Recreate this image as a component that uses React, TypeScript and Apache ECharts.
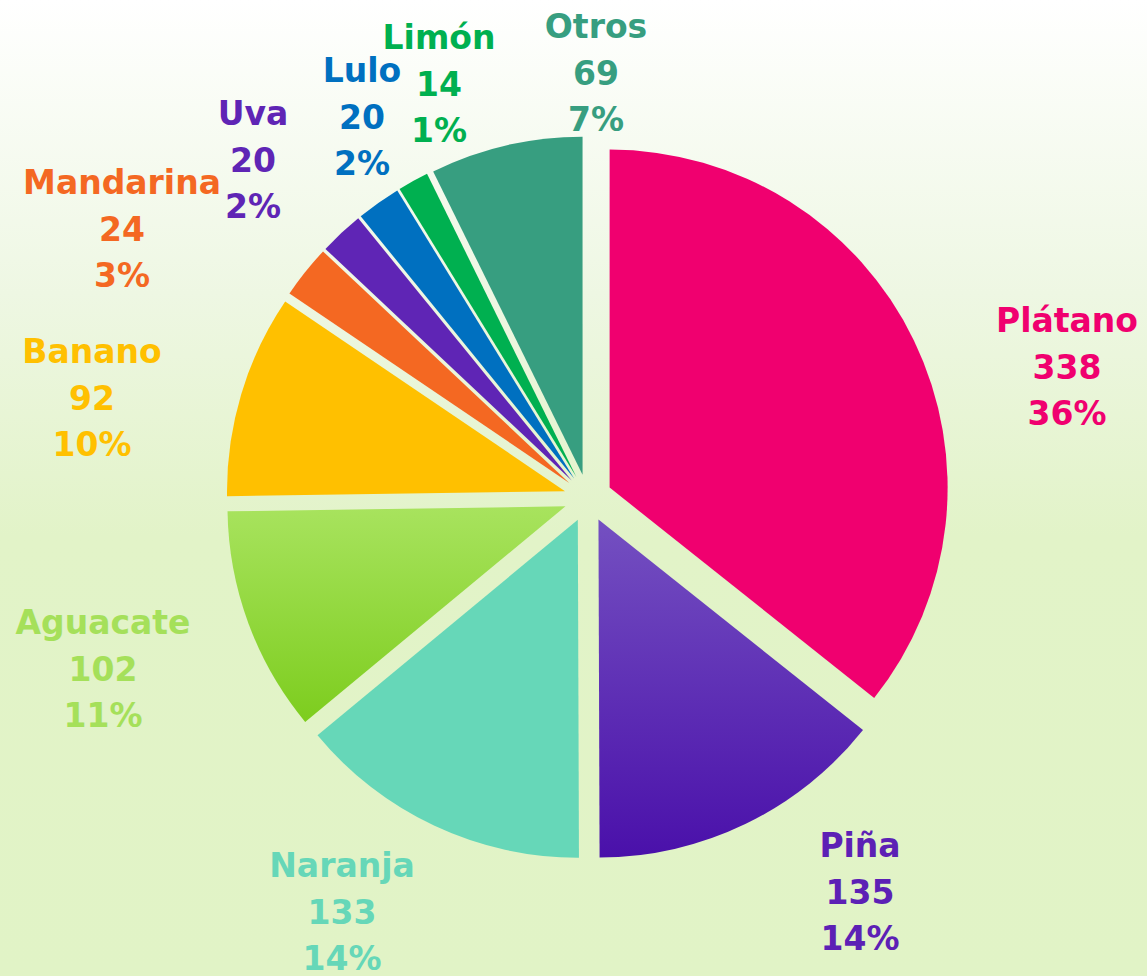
import React, { useEffect, useRef } from "react";
import * as echarts from "echarts";

const categories = ["Plátano", "Piña", "Naranja", "Aguacate", "Banano", "Mandarina", "Uva", "Lulo", "Limón", "Otros"];
const values = [338, 135, 133, 102, 92, 24, 20, 20, 14, 69];

const sliceColors: any[] = [
  "#f0006f",
  { type: "linear", x: 0, y: 0, x2: 0, y2: 1, colorStops: [{ offset: 0, color: "#7450c1" }, { offset: 1, color: "#4a10aa" }] },
  "#66d7b8",
  { type: "linear", x: 0, y: 0, x2: 0, y2: 1, colorStops: [{ offset: 0, color: "#a8e35e" }, { offset: 1, color: "#7dcd1e" }] },
  "#ffc000",
  "#f46822",
  "#5f25b5",
  "#0070c0",
  "#00b050",
  "#379e80",
];
const labelColors = ["#f0006f", "#5c20b5", "#66d7b8", "#a5e05a", "#ffc000", "#f46822", "#5f25b5", "#0070c0", "#00b050", "#379e80"];
// label centres (layout only)
const labelPos: [number, number][] = [
  [1067, 367], [860, 892], [342, 912], [103, 669], [92, 398],
  [122, 229], [253, 160], [362, 117], [439, 84], [596, 73],
];

export default function App() {
  const ref = useRef<HTMLDivElement>(null);
  useEffect(() => {
    if (!ref.current) return;
    const chart = echarts.init(ref.current, undefined, { renderer: "svg" });
    const common = {
      type: "pie",
      center: [588, 498],
      radius: 338,
      startAngle: 90,
      clockwise: true,
      avoidLabelOverlap: false,
      percentPrecision: 0,
      labelLine: { show: false },
      emphasis: { disabled: true },
    };
    chart.setOption({
      animation: false,
      series: [
        {
          ...common,
          selectedMode: "multiple",
          selectedOffset: 24,
          label: { show: false },
          data: categories.map((name, i) => ({
            name,
            value: values[i],
            selected: true,
            itemStyle: { color: sliceColors[i] },
            select: { itemStyle: { color: sliceColors[i], borderWidth: 0 } },
          })),
        },
        {
          ...common,
          silent: true,
          selectedMode: false,
          itemStyle: { color: "rgba(0,0,0,0)" },
          label: {
            show: true,
            position: "outside",
            formatter: "{b}\n{c}\n{d}%",
            fontFamily: "DejaVu Sans",
            fontWeight: "bold",
            fontSize: 33,
            lineHeight: 46.5,
            align: "center",
          },
          labelLayout: (p: any) => ({
            x: labelPos[p.dataIndex][0],
            y: labelPos[p.dataIndex][1],
            align: "center",
            verticalAlign: "middle",
          }),
          data: categories.map((name, i) => ({
            name,
            value: values[i],
            label: { color: labelColors[i] },
          })),
        },
      ],
    });
    return () => chart.dispose();
  }, []);
  return (
    <div
      ref={ref}
      style={{
        position: "absolute",
        left: 0,
        top: 0,
        width: 1147,
        height: 976,
        background: "linear-gradient(to bottom, #ffffff 0%, #eef7e3 30%, #e2f3c8 55%, #e1f3c6 100%)",
      }}
    />
  );
}
